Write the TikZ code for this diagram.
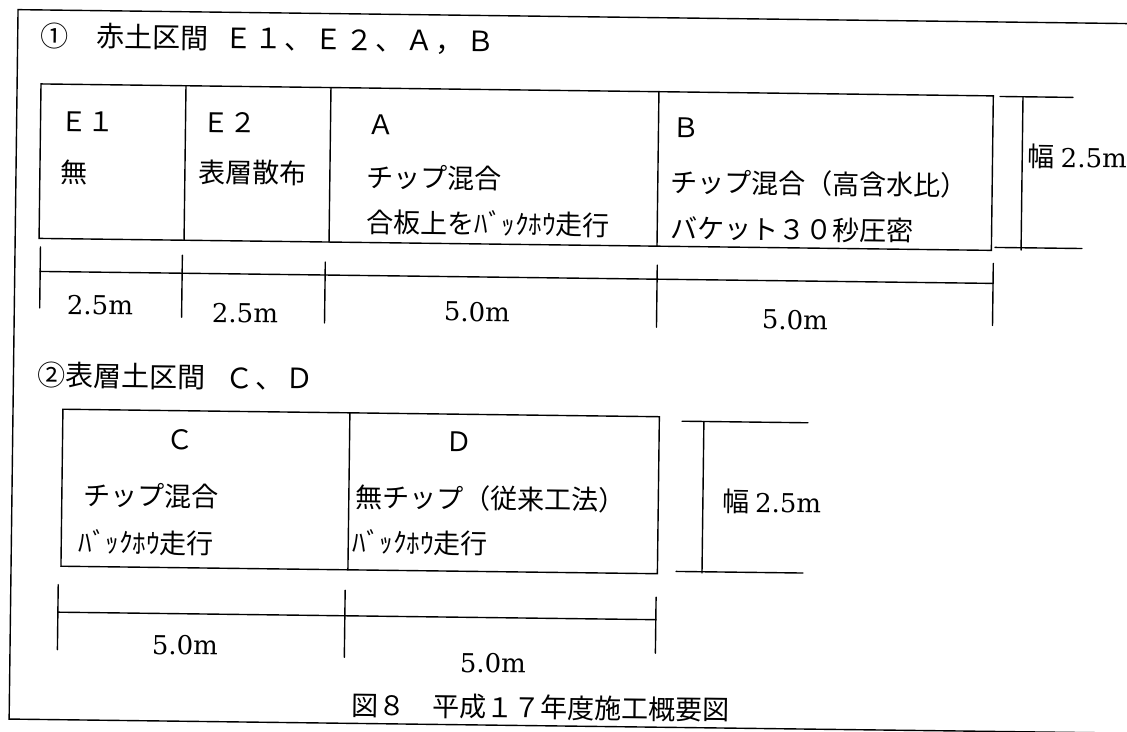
\documentclass[tikz,border=0pt]{standalone}
\usepackage{fontspec}
\newfontfamily\jp{Noto Sans CJK JP}
\newfontfamily\lat{DejaVu Serif}
\begin{document}
\begin{tikzpicture}[x=1pt,y=-1pt,
  ln/.style={line width=1.4pt, line cap=round},
  jpt/.style={font=\jp\fontsize{27}{30}\selectfont, inner sep=0pt, anchor=west},
  ttl/.style={font=\jp\fontsize{28}{30}\selectfont, inner sep=0pt, anchor=west},
  dimlab/.style={font=\lat\fontsize{26}{30}\selectfont, inner sep=0pt, anchor=center},
  widlab/.style={font=\lat\fontsize{26}{30}\selectfont, inner sep=0pt, anchor=west}]
\fill[white] (0,0) rectangle (1127,731);
\useasboundingbox (0,0) rectangle (1127,731);
\clip (0,0) rectangle (1127,731);
\begin{scope}[rotate around={-0.72:(563,365)}, transform shape]
% outer frame (open on the right)
\draw[ln] (1200,16.5) -- (13.6,16.5) -- (13.6,726) -- (1200,726);

% ---- section 1 ----
\node[ttl] (t1) at (36,42.5) {①\hspace{28pt}赤土区間\hspace{16pt}{\addfontfeature{LetterSpace=8}Ｅ１、Ｅ２、Ａ，Ｂ}};

\coordinate (r1nw) at (37.5,90.5);
\coordinate (r1se) at (990,245);
\draw[ln] (r1nw) rectangle (r1se);
\draw[ln] (182.5,90.5) -- (182.5,245);
\draw[ln] (327.5,90.5) -- (327.5,245);
\draw[ln] (655.5,90.5) -- (655.5,245);

\node[jpt] (e1a) at (57,128) {Ｅ１};
\node[jpt] (e1b) at (58,178.3) {無};
\node[jpt] (e2a) at (199,126.5) {Ｅ２};
\node[jpt] (e2b) at (196.5,176.5) {表層散布};
\node[jpt] (aa) at (364,127.4) {Ａ};
\node[jpt] (ab) at (364.5,179.4) {チップ混合};
\node[jpt] (ac) at (365,224.4) {合板上をﾊﾞｯｸﾎｳ走行};
\node[jpt] (ba) at (669,126.6) {Ｂ};
\node[jpt] (bb) at (668.5,180.6) {チップ混合（高含水比）};
\node[jpt] (bc) at (669,226.6) {バケット３０秒圧密};

% width dimension 1
\draw[ln] (996.6,91) -- (1069.6,91);
\draw[ln] (1019.6,91) -- (1019.6,244.3);
\draw[ln] (993.5,242) -- (1080.5,242);
\node[widlab] (w1) at (1025,150.6) {{\jp\fontsize{27}{30}\selectfont 幅}\hspace{6pt}2.5m};

% length dimension 1
\draw[ln] (39,278) -- (992,278);
\draw[ln] (39,253.5) -- (39,314.5);
\draw[ln] (181,260) -- (181,322);
\draw[ln] (324,265) -- (324,326);
\draw[ln] (656,264) -- (656,326);
\draw[ln] (992,258) -- (992,320);
\node[dimlab] (l1) at (99.3,310.8) {2.5m};
\node[dimlab] (l2) at (244.4,317) {2.5m};
\node[dimlab] (l3) at (476.3,313) {5.0m};
\node[dimlab] (l4) at (794.4,317) {5.0m};

% ---- section 2 ----
\node[ttl] (t2) at (37.6,381.6) {②表層土区間\hspace{20pt}{\addfontfeature{LetterSpace=8}Ｃ、Ｄ}};

\draw[ln] (63.5,415.5) rectangle (660,572.5);
\draw[ln] (350.5,415.5) -- (350.5,572.5);

\node[jpt, anchor=center] (ca) at (180.9,444.8) {Ｃ};
\node[jpt] (cb) at (85,501) {チップ混合};
\node[jpt] (cc) at (81,548) {ﾊﾞｯｸﾎｳ走行};
\node[jpt, anchor=center] (da) at (460,443.3) {Ｄ};
\node[jpt] (db) at (357,499.6) {無チップ（従来工法）};
\node[jpt] (dc) at (355,544.6) {ﾊﾞｯｸﾎｳ走行};

% width dimension 2
\draw[ln] (682.7,419.7) -- (808.7,419.7);
\draw[ln] (704.6,419.7) -- (704.6,571.2);
\draw[ln] (678.6,570) -- (805.6,570);
\node[widlab] (w2) at (723.7,499.4) {{\jp\fontsize{27}{30}\selectfont 幅}\hspace{6pt}2.5m};

% length dimension 2
\draw[ln] (61,618.5) -- (659,618.5);
\draw[ln] (61,591) -- (61,656);
\draw[ln] (348,593) -- (348,660);
\draw[ln] (659,596) -- (659,652);
\node[dimlab] (m1) at (188.5,649.7) {5.0m};
\node[dimlab] (m2) at (496.7,663.9) {5.0m};

% caption
\node[jpt] (cap) at (355.5,708) {図８　平成１７年度施工概要図};
\end{scope}
\end{tikzpicture}
\end{document}
